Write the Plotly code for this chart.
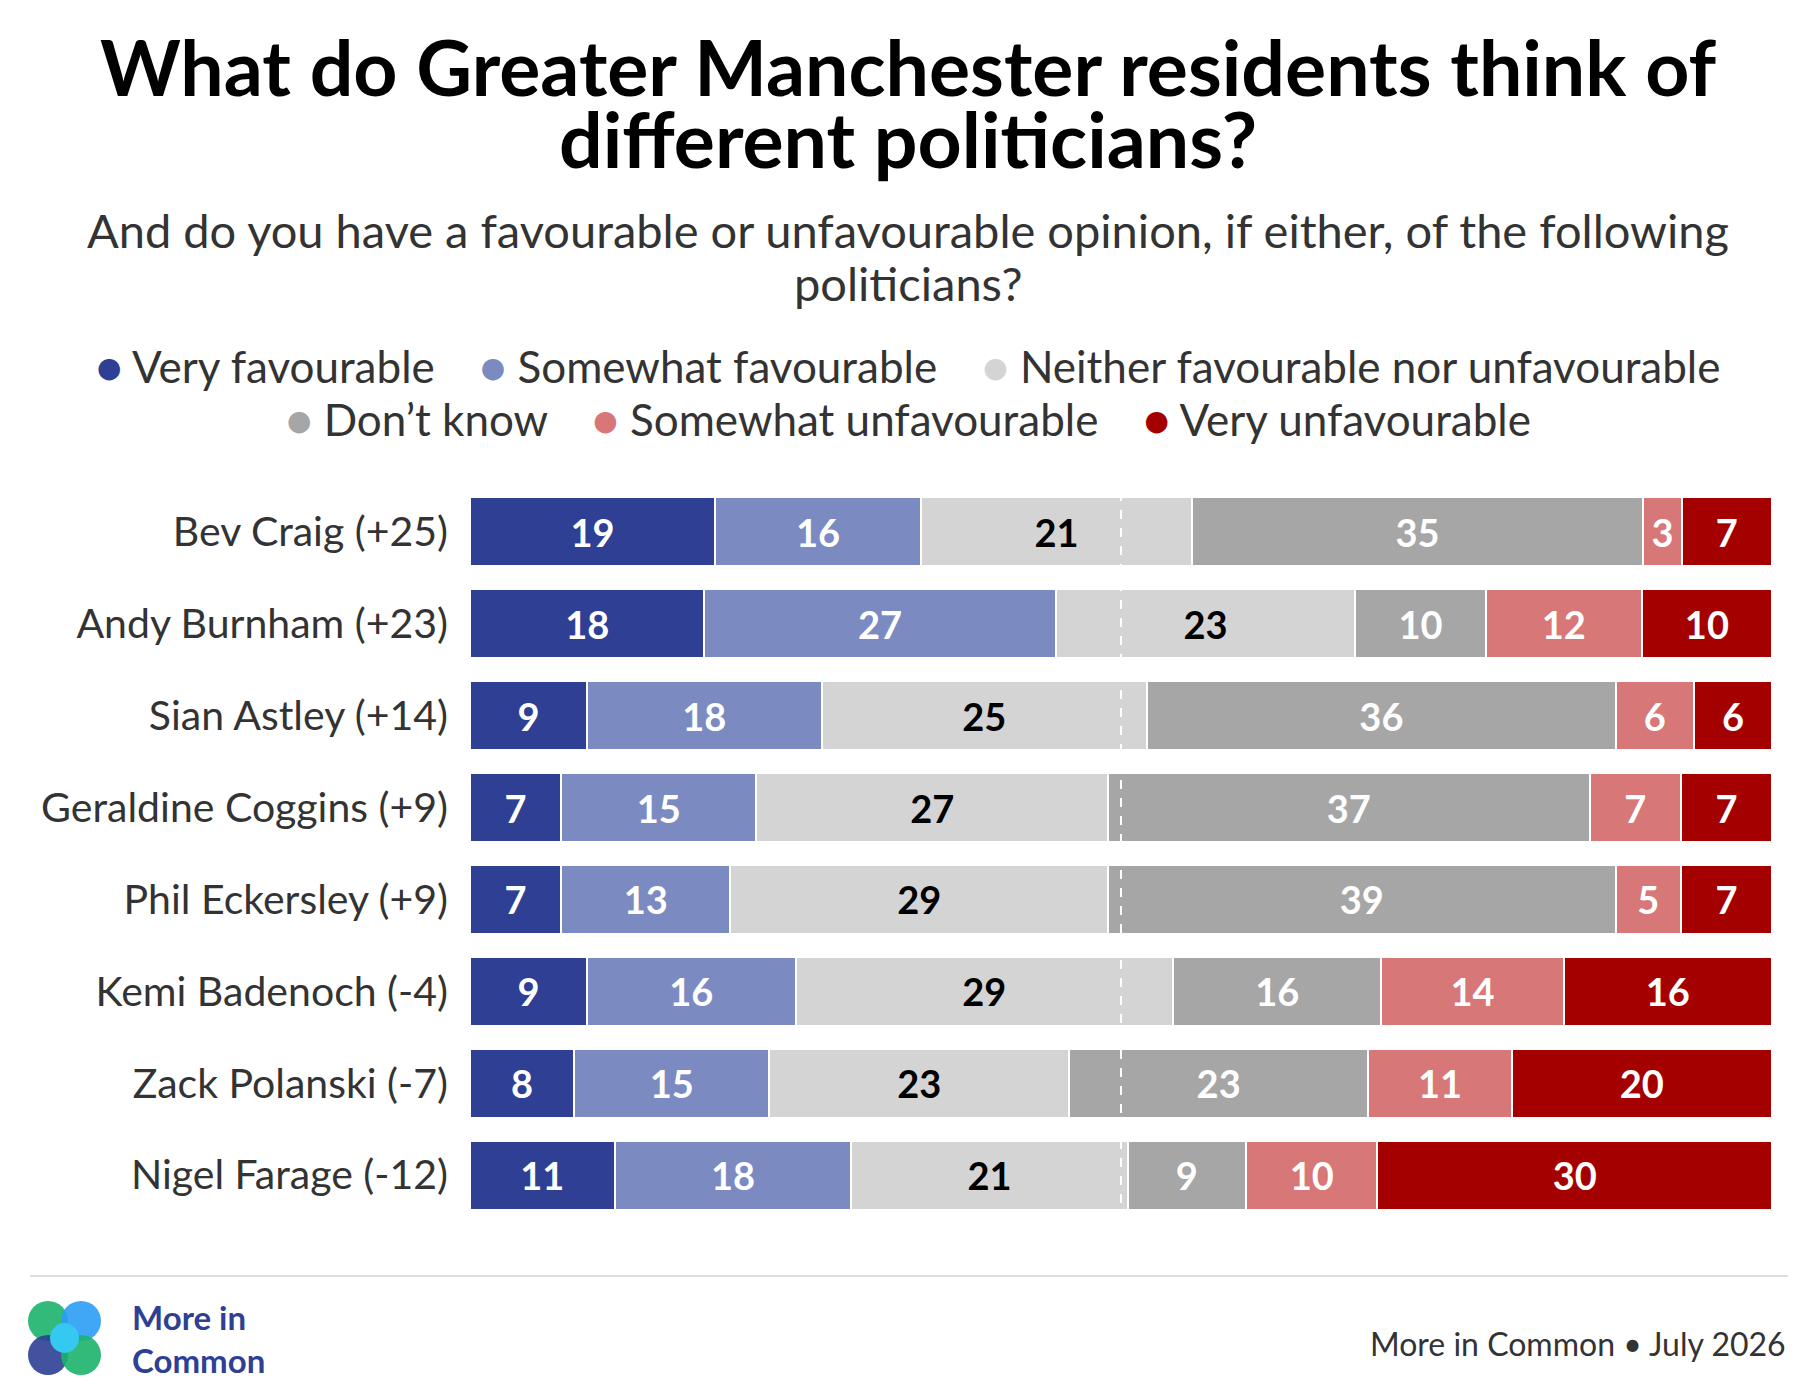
import plotly.graph_objects as go

names = ["Bev Craig (+25)", "Andy Burnham (+23)", "Sian Astley (+14)", "Geraldine Coggins (+9)",
         "Phil Eckersley (+9)", "Kemi Badenoch (-4)", "Zack Polanski (-7)", "Nigel Farage (-12)"]

data = {
    "Very favourable": [19, 18, 9, 7, 7, 9, 8, 11],
    "Somewhat favourable": [16, 27, 18, 15, 13, 16, 15, 18],
    "Neither favourable nor unfavourable": [21, 23, 25, 27, 29, 29, 23, 21],
    "Don\u2019t know": [35, 10, 36, 37, 39, 16, 23, 9],
    "Somewhat unfavourable": [3, 12, 6, 7, 5, 14, 11, 10],
    "Very unfavourable": [7, 10, 6, 7, 7, 16, 20, 30],
}
colors = ["#2e3f94", "#7b8bc2", "#d4d4d4", "#a6a6a6", "#d87777", "#a50000"]
text_colors = ["white", "white", "black", "white", "white", "white"]

W, H = 1800, 1400
L, R, T, B = 462, 36, 478, 187

fig = go.Figure()
for (label, vals), c, tc in zip(data.items(), colors, text_colors):
    fig.add_trace(go.Bar(
        y=names, x=vals, name=label, orientation="h", showlegend=False,
        marker=dict(color=c, line=dict(color="white", width=2)),
        text=vals, textposition="inside", insidetextanchor="middle", textangle=0,
        textfont=dict(color=tc, size=38, family="Lato", weight="bold"),
        hoverinfo="skip",
    ))

fig.update_layout(
    barmode="stack", barnorm="percent", bargap=0.25,
    width=W, height=H,
    paper_bgcolor="white", plot_bgcolor="white",
    margin=dict(l=L, r=R, t=T, b=B),
    font=dict(family="Lato", color="#333"),
    uniformtext=dict(minsize=26, mode="show"),
)
fig.update_xaxes(range=[0, 100], visible=False)
fig.update_yaxes(autorange="reversed", tickfont=dict(size=41, color="#333"), ticksuffix="  ", showline=False)

fig.add_shape(type="line", xref="x", yref="paper", x0=50, x1=50, y0=0.0, y1=1.0,
              line=dict(color="white", width=2, dash="dash"))


def px_x(px):
    return (px - L) / (W - L - R)


def px_y(py):
    return (H - B - py) / (H - T - B)


def centered(text, y, size, color, bold=False):
    fig.add_annotation(text=f"<b>{text}</b>" if bold else text, xref="paper", yref="paper",
                       x=px_x(900), y=px_y(y), xanchor="center", yanchor="middle", showarrow=False,
                       font=dict(size=size, color=color, family="Lato"))


centered("What do Greater Manchester residents think of", 58, 77, "black", bold=True)
centered("different politicians?", 130, 77, "black", bold=True)
centered("And do you have a favourable or unfavourable opinion, if either, of the following", 222, 47, "#333")
centered("politicians?", 275, 47, "#333")

# legend drawn as text rows
labels = list(data.keys())
rows = [[0, 1, 2], [3, 4, 5]]
for i, row in enumerate(rows):
    txt = "    ".join(f"<span style='color:{colors[k]}'>\u25cf</span> {labels[k]}" for k in row)
    centered(txt, 358 + i * 53, 44, "#333")

fig.add_shape(type="line", xref="paper", yref="paper", x0=px_x(22), x1=px_x(1780), y0=px_y(1268), y1=px_y(1268),
              line=dict(color="#dddddd", width=2))
fig.add_annotation(text="More in Common \u2022 July 2026", xref="paper", yref="paper", x=px_x(1780), y=px_y(1335),
                   xanchor="right", yanchor="middle", showarrow=False, font=dict(size=32, color="#333"))

# logo: four overlapping circles
for cxp, cyp, col in [(40, 1313, "#1bb36a"), (73, 1313, "#2a9df4"),
                      (40, 1347, "#2e3f94"), (73, 1347, "#1bb36a")]:
    fig.add_shape(type="circle", xref="paper", yref="paper", x0=px_x(cxp - 20), x1=px_x(cxp + 20),
                  y0=px_y(cyp + 20), y1=px_y(cyp - 20), fillcolor=col, line_width=0, opacity=0.9)
fig.add_shape(type="circle", xref="paper", yref="paper", x0=px_x(42), x1=px_x(71),
              y0=px_y(1345), y1=px_y(1315), fillcolor="#35c8f0", line_width=0)
fig.add_annotation(text="<b>More in<br>Common</b>", xref="paper", yref="paper", x=px_x(122), y=px_y(1330),
                   xanchor="left", yanchor="middle", align="left", showarrow=False,
                   font=dict(size=33, color="#2e3f94"))

fig.write_html("out.html")
